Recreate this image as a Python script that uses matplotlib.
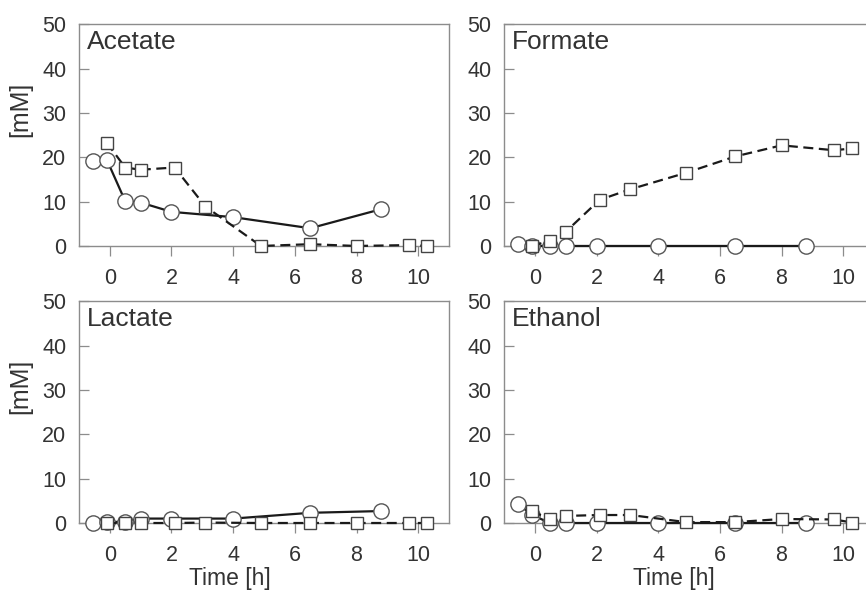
import matplotlib
matplotlib.use('Agg')
import matplotlib.pyplot as plt

# sampling times [h]
t_circ = [-0.55, -0.1, 0.5, 1.0, 2.0, 4.0, 6.5, 8.8]
t_sq = [-0.1, 0.5, 1.0, 2.1, 3.1, 4.9, 6.5, 8.0, 9.7, 10.3]

# concentrations [mM]
acetate_circ = [19.1, 19.5, 10.1, 9.8, 7.7, 6.5, 4.0, 8.3]
acetate_sq = [23.3, 17.7, 17.2, 17.7, 8.9, 0.0, 0.4, 0.0, 0.2, 0.0]
formate_circ = [0.4, 0.0, 0.0, 0.0, 0.0, 0.0, 0.0, 0.0]
formate_sq = [0.0, 1.2, 3.2, 10.4, 12.8, 16.5, 20.2, 22.7, 21.6, 22.0]
lactate_circ = [0.1, 0.2, 0.3, 1.0, 1.0, 1.0, 2.3, 2.7]
lactate_sq = [0.0, 0.0, 0.0, 0.0, 0.1, 0.0, 0.0, 0.0, 0.0, 0.0]
ethanol_circ = [4.4, 1.8, 0.0, 0.0, 0.0, 0.0, 0.0, 0.0]
ethanol_sq = [2.7, 0.8, 1.6, 1.8, 1.8, 0.2, 0.2, 0.9, 0.8, 0.1]

panels = [
    ('Acetate', acetate_circ, acetate_sq),
    ('Formate', formate_circ, formate_sq),
    ('Lactate', lactate_circ, lactate_sq),
    ('Ethanol', ethanol_circ, ethanol_sq),
]

plt.rcParams['font.family'] = ['Liberation Sans', 'DejaVu Sans']
text_col = '#333333'
spine_col = '#8c8c8c'

fig = plt.figure(figsize=(8.66, 5.95), dpi=100)

# axes boxes in figure fractions (right column runs slightly past the edge)
lefts = [0.0912, 0.582]
bottoms = [0.5866, 0.1210]
w, h = 0.4273, 0.3725

for i, (name, yc, ys) in enumerate(panels):
    row, col = divmod(i, 2)
    ax = fig.add_axes([lefts[col], bottoms[row], w, h])

    # circles, solid line
    ax.plot(t_circ, yc, '-', color='#1a1a1a', lw=1.6, marker='o', ms=11,
            mfc='white', mec='#555555', mew=1.0, clip_on=False, zorder=3)
    # squares, dashed line
    ax.plot(t_sq, ys, color='#1a1a1a', lw=1.6, dashes=(4.5, 2.5), marker='s',
            ms=8.5, mfc='white', mec='#444444', mew=1.0, clip_on=False, zorder=4)

    ax.set_xlim(-1, 11)
    ax.set_ylim(0, 50)
    ax.set_xticks([0, 2, 4, 6, 8, 10])
    ax.set_yticks([0, 10, 20, 30, 40, 50])

    for s in ax.spines.values():
        s.set_color(spine_col)
        s.set_linewidth(1.0)

    ax.tick_params(axis='y', direction='in', length=7, width=0.9, color=spine_col,
                   pad=9, labelsize=15.5, labelcolor=text_col)
    ax.tick_params(axis='x', direction='out', length=7, width=0.9, color=spine_col,
                   pad=9, labelsize=15.5, labelcolor=text_col)

    ax.text(0.022, 0.975, name, transform=ax.transAxes, ha='left', va='top',
            fontsize=19, color=text_col)

    if col == 0:
        ax.set_ylabel('[mM]', fontsize=18, color=text_col)
        ax.yaxis.set_label_coords(-0.127, 0.615)
    if row == 1:
        ax.set_xlabel('Time [h]', fontsize=16.5, color=text_col)
        ax.xaxis.set_label_coords(0.408 if col == 0 else 0.46, -0.2)

fig.savefig('out.png', dpi=100, facecolor='white')
